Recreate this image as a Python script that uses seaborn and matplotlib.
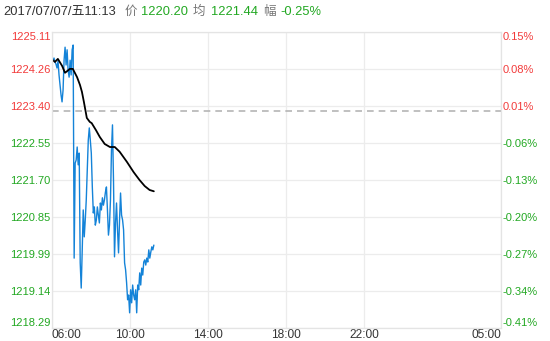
import matplotlib
matplotlib.use("Agg")
import matplotlib.pyplot as plt
import matplotlib.dates as mdates
import numpy as np
import pandas as pd
import seaborn as sns

# ---- data ----
price = [1224.46, 1224.51, 1224.42, 1224.37, 1224.28, 1224.44, 1224.12, 1223.89, 1223.66, 1223.50,
         1223.77, 1224.46, 1224.76, 1224.35, 1224.70, 1224.23, 1224.07, 1224.46, 1224.12, 1224.70,
         1224.81, 1219.90, 1222.09, 1222.16, 1222.46, 1222.05, 1222.32, 1219.79, 1219.21, 1220.09,
         1221.01, 1220.39, 1220.78, 1221.24, 1221.93, 1222.62, 1222.90, 1222.62, 1222.32, 1221.54,
         1220.94, 1221.08, 1220.66, 1220.78, 1221.08, 1220.89, 1220.71, 1221.17, 1221.01, 1221.29,
         1221.12, 1221.24, 1221.42, 1221.54, 1221.01, 1220.43, 1220.66, 1221.24, 1222.39, 1222.97,
         1221.70, 1219.93, 1220.71, 1221.17, 1220.55, 1220.02, 1220.78, 1221.40, 1220.89, 1220.78,
         1220.55, 1219.79, 1219.63, 1219.33, 1218.94, 1219.05, 1218.64, 1219.17, 1218.87, 1219.28,
         1219.05, 1218.94, 1219.17, 1218.64, 1219.28, 1219.17, 1219.56, 1219.28, 1219.67, 1219.51,
         1219.81, 1219.86, 1219.74, 1219.90, 1219.81, 1220.09, 1219.90, 1220.04, 1220.16, 1220.09,
         1220.20]
price_start = "2017-07-07 06:03"
price_end = "2017-07-07 11:13"

avg_times = ["06:03", "06:09", "06:18", "06:31", "06:40", "06:55", "07:04", "07:17", "07:26", "07:32",
             "07:38", "07:47", "07:56", "08:02", "08:15", "08:27", "08:42", "08:58", "09:13", "09:28",
             "09:50", "10:11", "10:29", "10:45", "11:00", "11:13"]
avg_price = [1224.46, 1224.42, 1224.49, 1224.33, 1224.17, 1224.26, 1224.26, 1224.07, 1223.89, 1223.73,
             1223.50, 1223.13, 1223.04, 1223.01, 1222.85, 1222.69, 1222.53, 1222.46, 1222.46, 1222.35,
             1222.12, 1221.88, 1221.70, 1221.56, 1221.47, 1221.44]

prev_close = 1223.28
y_ticks = [1225.11, 1224.26, 1223.40, 1222.55, 1221.70, 1220.85, 1219.99, 1219.14, 1218.29]
pct_labels = ["0.15%", "0.08%", "0.01%", "-0.06%", "-0.13%", "-0.20%", "-0.27%", "-0.34%", "-0.41%"]
x_tick_labels = ["06:00", "10:00", "14:00", "18:00", "22:00", "05:00"]
x_tick_times = ["2017-07-07 06:00", "2017-07-07 10:00", "2017-07-07 14:00",
                "2017-07-07 18:00", "2017-07-07 22:00", "2017-07-08 05:00"]

header_date = "2017/07/07/五11:13"
header_price = "1220.20"
header_avg = "1221.44"
header_chg = "-0.25%"

# ---- style ----
sns.set_style("white")
plt.rcParams['font.family'] = ['Liberation Sans', 'Noto Sans CJK SC', 'DejaVu Sans']

RED = "#f23b3b"
GREEN = "#22a822"
BLUE = "#1483d8"
GRID = "#ececec"
TXT = "#333333"

df_p = pd.DataFrame({"time": pd.date_range(price_start, price_end, periods=len(price)),
                     "price": price})
df_a = pd.DataFrame({"time": pd.to_datetime(["2017-07-07 " + t for t in avg_times]),
                     "price": avg_price})

fig = plt.figure(figsize=(5.5, 3.41), dpi=100)
ax = fig.add_axes([52 / 550, 1 - 328 / 341, (501 - 52) / 550, (328 - 32) / 341])

sns.lineplot(data=df_p, x="time", y="price", ax=ax, color=BLUE, linewidth=1.0)
sns.lineplot(data=df_a, x="time", y="price", ax=ax, color="black", linewidth=1.3)
ax.axhline(prev_close, color="#b5b5b5", linestyle=(0, (4, 3)), linewidth=1.2, zorder=1)

xt = pd.to_datetime(x_tick_times)
ax.set_xlim(xt[0], xt[-1])
ax.set_ylim(y_ticks[-1], y_ticks[0])

ax.set_xticks(xt)
ax.set_xticklabels(x_tick_labels, fontsize=8.6, color=TXT)
xl = ax.get_xticklabels()
xl[0].set_ha("left")
xl[-1].set_ha("right")
ax.set_yticks(y_ticks)
ax.set_yticklabels([f"{v:.2f}" for v in y_ticks], fontsize=8)
for lab, v in zip(ax.get_yticklabels(), y_ticks):
    lab.set_color(RED if v > prev_close else GREEN)
yl = ax.get_yticklabels()
yl[0].set_va("top")
yl[-1].set_va("bottom")
ax.tick_params(axis="both", length=0, pad=1)
ax.tick_params(axis="x", pad=1)
ax.grid(True, color=GRID, linewidth=0.9)
ax.set_xlabel("")
ax.set_ylabel("")
for s in ax.spines.values():
    s.set_color("#e4e4e4")
    s.set_linewidth(0.9)

ax2 = ax.twinx()
ax2.set_ylim(ax.get_ylim())
ax2.set_yticks(y_ticks)
ax2.set_yticklabels(pct_labels, fontsize=8)
for lab, v in zip(ax2.get_yticklabels(), y_ticks):
    lab.set_color(RED if v > prev_close else GREEN)
yl2 = ax2.get_yticklabels()
yl2[0].set_va("top")
yl2[-1].set_va("bottom")
ax2.tick_params(axis="y", length=0, pad=1)
for s in ax2.spines.values():
    s.set_visible(False)

# header
y_h = 1 - 12 / 341
def put(x, s, c, fs=9.3):
    fig.text(x / 550, y_h, s, color=c, fontsize=fs, va="center", ha="left")
put(3, header_date, TXT)
put(125, "价", "#777777", 9)
put(141, header_price, GREEN)
put(193, "均", "#777777", 9)
put(211, header_avg, GREEN)
put(263, "幅", "#777777", 9)
put(280, header_chg, GREEN)

fig.savefig("out.png", dpi=100)
